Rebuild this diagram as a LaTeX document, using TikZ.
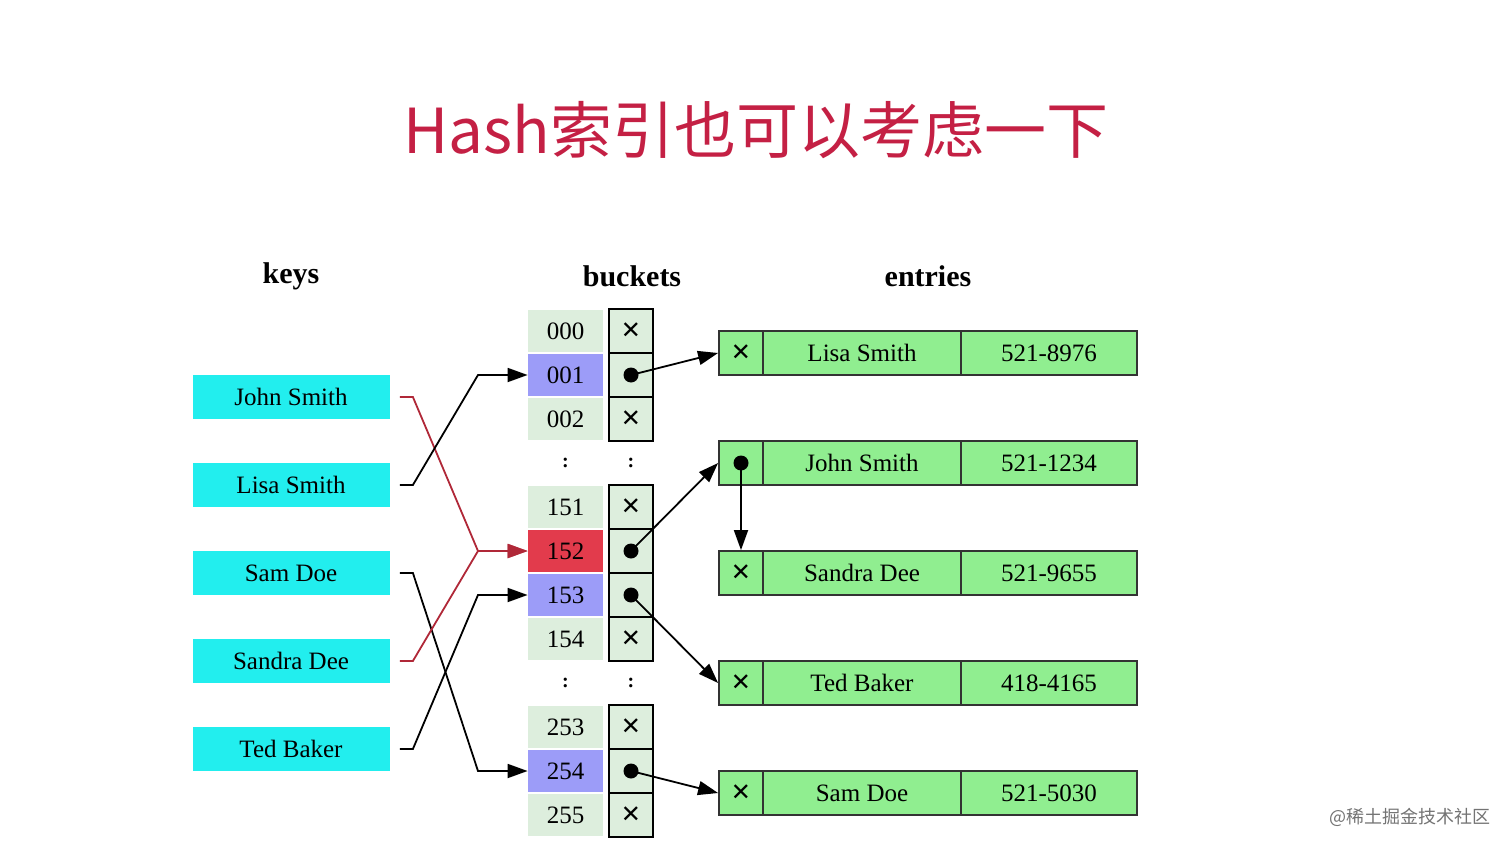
\documentclass[tikz,border=0pt]{standalone}
\usepackage{fontspec}
\setmainfont{Liberation Serif}
\newfontfamily\cjk{Noto Sans CJK SC}
\newfontfamily\djv{DejaVu Sans}
\usetikzlibrary{arrows.meta}
\definecolor{title}{HTML}{C42044}
\definecolor{keyc}{HTML}{22EEEE}
\definecolor{bnum}{HTML}{DDEEDD}
\definecolor{bpur}{HTML}{9C9CF8}
\definecolor{bred}{HTML}{E23B4C}
\definecolor{ent}{HTML}{90EE90}
\definecolor{redl}{HTML}{B02838}
\tikzset{
 keybox/.style={fill=keyc,minimum width=98.5pt,minimum height=22pt,inner sep=0,font=\fontsize{12.5}{14}\selectfont},
 numbox/.style={fill=bnum,minimum width=37.5pt,minimum height=21pt,inner sep=0,font=\fontsize{12.5}{14}\selectfont},
 chk/.style={draw=black,line width=0.9pt,fill=bnum,minimum width=22pt,minimum height=22pt,inner sep=0},
 ecell/.style={draw=black!80,line width=0.9pt,fill=ent,minimum height=22pt,inner sep=0,font=\fontsize{12.5}{14}\selectfont},
 hdr/.style={font=\bfseries\fontsize{15}{17}\selectfont},
 arr/.style={-{Triangle[length=10pt,width=7pt]},line width=0.9pt},
 dotc/.style={circle,fill=black,inner sep=0,minimum size=7.5pt},
}
\newcommand{\xx}{{\djv\fontsize{12}{13}\selectfont ✕}}
\begin{document}
\begin{tikzpicture}[x=0.5pt,y=-0.5pt]
\useasboundingbox (0,0) rectangle (1512,851);
\node[text=title,font=\cjk\fontsize{31}{34}\selectfont] (t) at (756,130) {Hash索引也可以考虑一下};
\node[hdr] (hk) at (291,276) {keys};
\node[hdr] (hb) at (632,276) {buckets};
\node[hdr] (he) at (928,276) {entries};
% keys
\foreach \n/\t/\y in {k1/John Smith/397,k2/Lisa Smith/485,k3/Sam Doe/573,k4/Sandra Dee/661,k5/Ted Baker/749}
  \node[keybox] (\n) at (291,\y) {\t};
% buckets
\foreach \n/\t/\y/\c/\m in {b000/000/331/bnum/x,b001/001/375/bpur/o,b002/002/419/bnum/x,b151/151/507/bnum/x,b152/152/551/bred/o,b153/153/595/bpur/o,b154/154/639/bnum/x,b253/253/727/bnum/x,b254/254/771/bpur/o,b255/255/815/bnum/x}{
  \node[numbox,fill=\c] (\n) at (565.5,\y) {\t};
  \node[chk] (c\n) at (631,\y) {};
  \if x\m \node at (c\n) {\xx};\else \node[dotc] (d\n) at (c\n) {};\fi
}
\node[font=\bfseries] (s1) at (565.5,463) {:};
\node[font=\bfseries] (s2) at (631,463) {:};
\node[font=\bfseries] (s3) at (565.5,683) {:};
\node[font=\bfseries] (s4) at (631,683) {:};
% entries
\foreach \n/\a/\b/\y/\m in {e1/Lisa Smith/521-8976/353/x,e2/John Smith/521-1234/463/o,e3/Sandra Dee/521-9655/573/x,e4/Ted Baker/418-4165/683/x,e5/Sam Doe/521-5030/793/x}{
  \node[ecell,minimum width=22pt] (\n f) at (741,\y) {};
  \node[ecell,minimum width=99pt] (\n n) at (862,\y) {\a};
  \node[ecell,minimum width=88pt] (\n p) at (1049,\y) {\b};
  \if x\m \node at (\n f) {\xx};\else \node[dotc] (d\n) at (\n f) {};\fi
}
% key connectors
\draw[arr,redl] (k1.east)++(10,0) -- ++(13,0) -- (478,551) -- (b152.west);
\draw[arr] (k2.east)++(10,0) -- ++(13,0) -- (478,375) -- (b001.west);
\draw[arr] (k3.east)++(10,0) -- ++(13,0) -- (478,771) -- (b254.west);
\draw[arr,redl] (k4.east)++(10,0) -- ++(13,0) -- (478,551) -- (b152.west);
\draw[arr] (k5.east)++(10,0) -- ++(13,0) -- (478,595) -- (b153.west);
% bucket pointers
\draw[arr] (db001.center) -- (e1f.west);
\draw[arr] (db152.center) -- (e2f.west);
\draw[arr] (db153.center) -- (e4f.west);
\draw[arr] (db254.center) -- (e5f.west);
\draw[arr] (de2.center) -- (e3f.north);
\node[text=black!55,font=\cjk\fontsize{9}{10}\selectfont] (wm) at (1410,817) {@稀土掘金技术社区};
\end{tikzpicture}
\end{document}
